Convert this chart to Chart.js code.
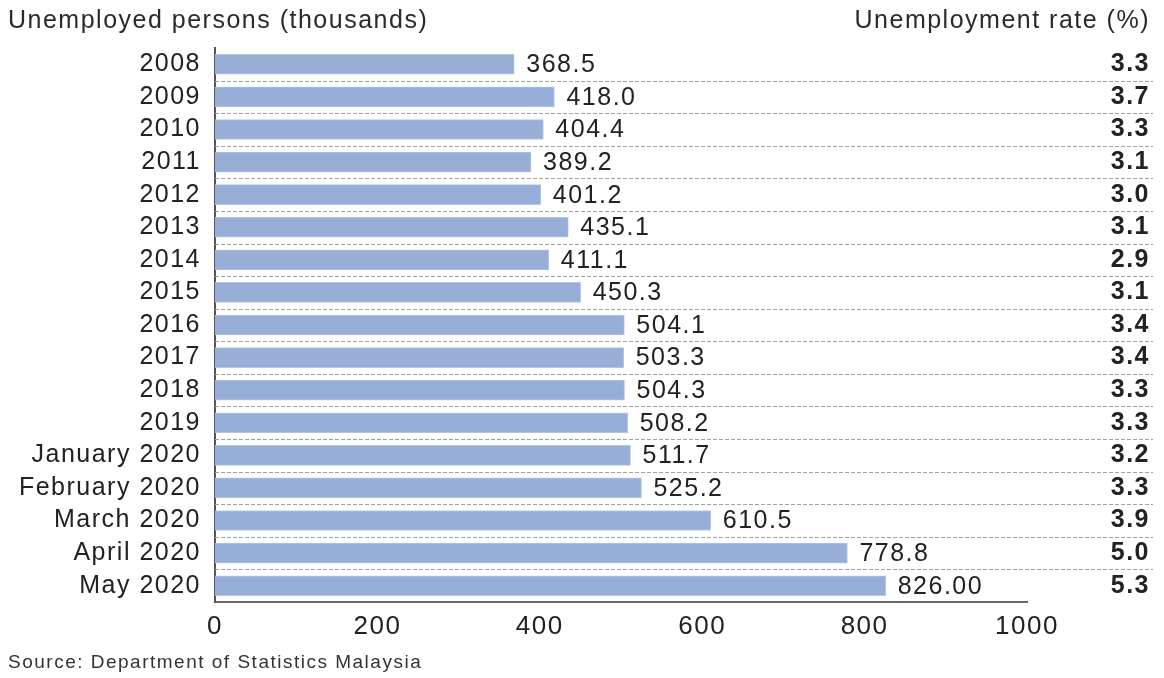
<!DOCTYPE html>
<html lang="en">
<head>
  <meta charset="UTF-8" />
  <title>Unemployed persons and unemployment rate, Malaysia</title>
  <script src="https://cdn.jsdelivr.net/npm/chart.js@4.4.0/dist/chart.umd.min.js"></script>
  <style>
    html, body {
      margin: 0;
      padding: 0;
      background: #ffffff;
    }
    canvas {
      display: block;
    }
  </style>
</head>
<body>
  <canvas id="barChart" width="1164" height="678"></canvas>

  <script>
    // data
    const periods = ["2008", "2009", "2010", "2011", "2012", "2013", "2014", "2015", "2016",
      "2017", "2018", "2019", "January 2020", "February 2020", "March 2020", "April 2020", "May 2020"];
    const unemployed = ["368.5", "418.0", "404.4", "389.2", "401.2", "435.1", "411.1", "450.3", "504.1",
      "503.3", "504.3", "508.2", "511.7", "525.2", "610.5", "778.8", "826.00"];
    const rates = ["3.3", "3.7", "3.3", "3.1", "3.0", "3.1", "2.9", "3.1", "3.4",
      "3.4", "3.3", "3.3", "3.2", "3.3", "3.9", "5.0", "5.3"];
    const xTicks = [0, 200, 400, 600, 800, 1000];

    const FONT = "'Liberation Sans', Arial, Helvetica, sans-serif";
    const SPACING = "1.5px";

    // the source picture's text is a bit wider than plain Arial
    const letterSpacing = {
      id: "letterSpacing",
      beforeUpdate(chart) { chart.ctx.letterSpacing = SPACING; },
      beforeDraw(chart) { chart.ctx.letterSpacing = SPACING; }
    };

    // dashed separators, value labels, rate column, headers and source
    const extras = {
      id: "extras",
      beforeDatasetsDraw(chart) {
        const ctx = chart.ctx;
        const y = chart.scales.y;
        const area = chart.chartArea;
        ctx.save();
        ctx.strokeStyle = "#a3a3a3";
        ctx.lineWidth = 1;
        ctx.setLineDash([4, 2]);
        for (let i = 0; i < periods.length - 1; i++) {
          const py = Math.round((y.getPixelForValue(i) + y.getPixelForValue(i + 1)) / 2) + 0.5;
          ctx.beginPath();
          ctx.moveTo(area.left, py);
          ctx.lineTo(area.right + 126, py);
          ctx.stroke();
        }
        ctx.restore();
      },
      afterDatasetsDraw(chart) {
        const ctx = chart.ctx;
        const area = chart.chartArea;
        const bars = chart.getDatasetMeta(0).data;
        ctx.save();
        ctx.letterSpacing = SPACING;
        ctx.fillStyle = "#222222";
        ctx.textBaseline = "middle";

        ctx.font = "25px " + FONT;
        ctx.textAlign = "left";
        bars.forEach((bar, i) => {
          ctx.fillText(unemployed[i], bar.x + 12, bar.y + 1);
        });

        ctx.font = "bold 25px " + FONT;
        ctx.textAlign = "right";
        bars.forEach((bar, i) => {
          ctx.fillText(rates[i], area.right + 123, bar.y);
        });

        ctx.textBaseline = "alphabetic";
        ctx.font = "25px " + FONT;
        ctx.fillStyle = "#2a2a2a";
        ctx.textAlign = "left";
        ctx.fillText("Unemployed persons (thousands)", 8, 28);
        ctx.textAlign = "right";
        ctx.fillText("Unemployment rate (%)", area.right + 123, 28);

        ctx.font = "19px " + FONT;
        ctx.fillStyle = "#333333";
        ctx.textAlign = "left";
        ctx.fillText("Source: Department of Statistics Malaysia", 8, 668);
        ctx.restore();
      }
    };

    new Chart(document.getElementById("barChart"), {
      type: "bar",
      data: {
        labels: periods,
        datasets: [{
          label: "Unemployed persons (thousands)",
          data: unemployed.map(Number),
          backgroundColor: "#97afd7",
          borderColor: "#b4c6e4",
          borderWidth: 1,
          barThickness: 20
        }]
      },
      options: {
        responsive: false,
        animation: false,
        indexAxis: "y",
        layout: {
          padding: { top: 48, right: 137, bottom: 0, left: 0 }
        },
        plugins: {
          legend: { display: false },
          tooltip: { enabled: false }
        },
        scales: {
          x: {
            min: 0,
            max: 1000,
            afterBuildTicks(scale) {
              scale.ticks = xTicks.map(v => ({ value: v }));
            },
            afterFit(scale) { scale.height = 76; },
            grid: { display: false, drawTicks: false },
            border: { display: true, color: "#6a6a6a", width: 2 },
            ticks: {
              padding: 9,
              color: "#222222",
              font: { family: FONT, size: 26 },
              callback: v => String(v)
            }
          },
          y: {
            afterFit(scale) { scale.width = 215; },
            grid: { display: false, drawTicks: false },
            border: { display: true, color: "#555555", width: 2 },
            ticks: {
              autoSkip: false,
              padding: 14,
              color: "#222222",
              font: { family: FONT, size: 25 }
            }
          }
        }
      },
      plugins: [letterSpacing, extras]
    });
  </script>
</body>
</html>
